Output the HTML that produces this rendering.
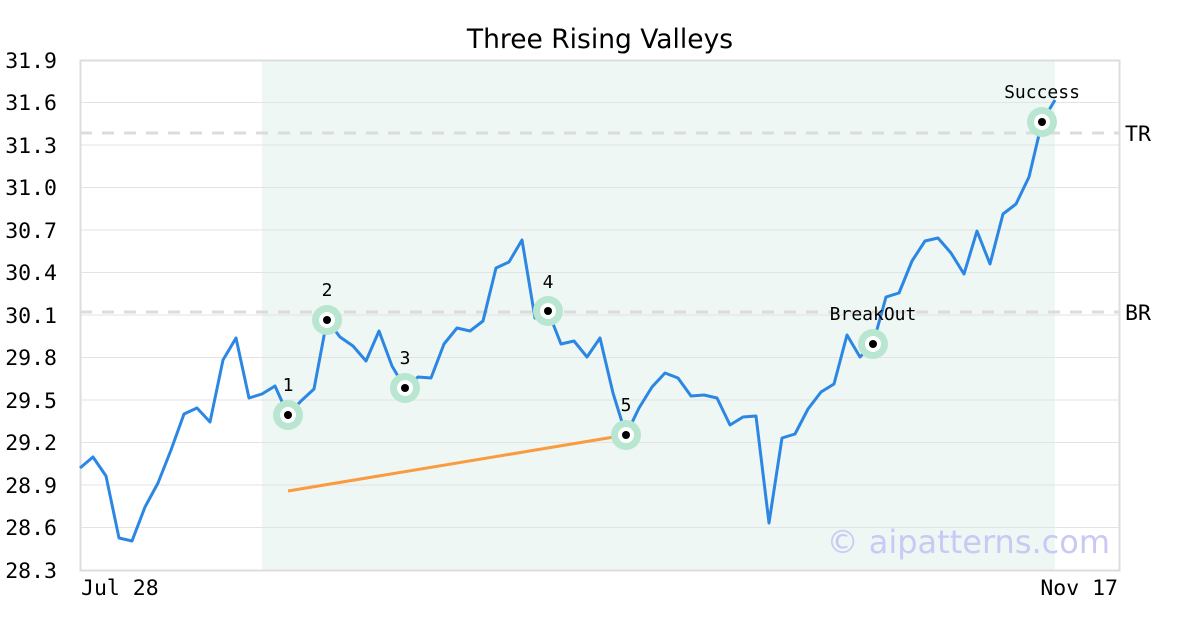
<!DOCTYPE html>
<html><head><meta charset="utf-8"><style>body{margin:0;background:#fff}svg{display:block}</style></head><body>
<svg width="1200" height="630" xmlns="http://www.w3.org/2000/svg" font-family="'DejaVu Sans Mono','Liberation Mono',monospace">
<rect width="1200" height="630" fill="#fff"/>
<text x="600" y="48" font-family="'DejaVu Sans','Liberation Sans',sans-serif" font-size="26.5" text-anchor="middle">Three Rising Valleys</text>
<rect x="262" y="60" width="793" height="510" fill="#eef7f3"/>
<g stroke="#e3e3e3" stroke-width="1">
<line x1="80" x2="1120" y1="102.5" y2="102.5"/><line x1="80" x2="1120" y1="145" y2="145"/><line x1="80" x2="1120" y1="187.5" y2="187.5"/><line x1="80" x2="1120" y1="230" y2="230"/><line x1="80" x2="1120" y1="272.5" y2="272.5"/><line x1="80" x2="1120" y1="315" y2="315"/><line x1="80" x2="1120" y1="357.5" y2="357.5"/><line x1="80" x2="1120" y1="400" y2="400"/><line x1="80" x2="1120" y1="442.5" y2="442.5"/><line x1="80" x2="1120" y1="485" y2="485"/><line x1="80" x2="1120" y1="527.5" y2="527.5"/>
</g>
<g stroke="#dcdcdc" stroke-width="3" stroke-dasharray="12,10"><line x1="80" x2="1120" y1="133" y2="133"/><line x1="80" x2="1120" y1="312" y2="312"/></g>
<rect x="80.5" y="60.5" width="1039" height="510" fill="none" stroke="#dddddd" stroke-width="2"/>
<g font-size="21.5" text-anchor="end" fill="#000">
<text x="57" y="68">31.9</text><text x="57" y="110">31.6</text><text x="57" y="153">31.3</text><text x="57" y="195">31.0</text><text x="57" y="238">30.7</text><text x="57" y="280">30.4</text><text x="57" y="323">30.1</text><text x="57" y="365">29.8</text><text x="57" y="408">29.5</text><text x="57" y="450">29.2</text><text x="57" y="493">28.9</text><text x="57" y="535">28.6</text><text x="57" y="578">28.3</text>
</g>
<text x="81" y="595" font-size="21.5">Jul 28</text>
<text x="1118" y="595" font-size="21.5" text-anchor="end">Nov 17</text>
<text x="1125" y="141" font-size="21.5">TR</text>
<text x="1125" y="320" font-size="21.5">BR</text>
<text x="1110" y="553" font-family="'DejaVu Sans','Liberation Sans',sans-serif" font-size="32" fill="#c9c9f5" text-anchor="end">© aipatterns.com</text>
<line x1="288" y1="491" x2="626" y2="435" stroke="#f99b3e" stroke-width="3"/>
<polyline fill="none" stroke="#2b87e3" stroke-width="3" stroke-linejoin="round" points="80,468 93,457 106,476 119,538 132,541 145,507 158,483 171,450 184,414 197,408 210,422 223,360 236,338 249,398 262,394 275,386 288,415 301,401 314,389 327,320 340,337 353,346 366,361 379,331 392,366 405,388 418,377 431,378 444,344 457,328 470,331 483,321 496,268 509,262 522,240 535,318 548,311 561,344 574,341 587,357 600,338 613,393 626,435 639,408 652,387 665,373 678,378 691,396 704,395 717,398 730,425 743,417 756,416 769,523 782,438 795,434 808,409 821,392 834,384 847,335 860,357 873,344 886,297 899,293 912,261 925,241 938,238 951,253 964,274 977,231 990,264 1003,214 1016,204 1029,177 1042,122 1055,100"/>
<g>
<g fill="#b9e6d0"><circle cx="288" cy="415" r="15"/><circle cx="327" cy="320" r="15"/><circle cx="405" cy="388" r="15"/><circle cx="548" cy="311" r="15"/><circle cx="626" cy="435" r="15"/><circle cx="873" cy="344" r="15"/><circle cx="1042" cy="122" r="15"/></g>
<g fill="#fff"><circle cx="288" cy="415" r="8"/><circle cx="327" cy="320" r="8"/><circle cx="405" cy="388" r="8"/><circle cx="548" cy="311" r="8"/><circle cx="626" cy="435" r="8"/><circle cx="873" cy="344" r="8"/><circle cx="1042" cy="122" r="8"/></g>
<g fill="#000"><circle cx="288" cy="415" r="4"/><circle cx="327" cy="320" r="4"/><circle cx="405" cy="388" r="4"/><circle cx="548" cy="311" r="4"/><circle cx="626" cy="435" r="4"/><circle cx="873" cy="344" r="4"/><circle cx="1042" cy="122" r="4"/></g>
</g>
<g font-size="18" text-anchor="middle">
<text x="288" y="391">1</text><text x="327" y="296">2</text><text x="405" y="364">3</text><text x="548" y="288">4</text><text x="626" y="411">5</text><text x="873" y="320">BreakOut</text><text x="1042" y="98">Success</text>
</g>
</svg>
</body></html>
